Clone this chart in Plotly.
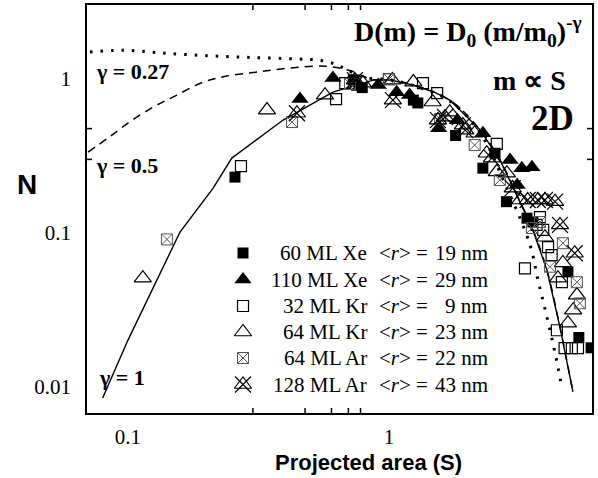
import math
import plotly.graph_objects as go

# ---------------- data ----------------
xe60_S = [0.257, 0.73, 0.79, 1.24, 1.29, 1.80, 2.29, 2.55, 2.82, 3.38, 3.56, 4.85, 5.34, 5.95]
xe60_N = [0.231, 0.99, 0.88, 0.73, 0.70, 0.43, 0.264, 0.33, 0.16, 0.125, 0.118, 0.056, 0.021, 0.018]

xe110_S = [0.456, 0.61, 0.77, 0.91, 1.07, 1.20, 1.55, 1.83, 2.29, 2.91, 3.10, 3.23, 3.53]
xe110_N = [0.742, 1.015, 0.89, 0.914, 0.82, 0.787, 0.48, 0.54, 0.445, 0.298, 0.205, 0.264, 0.268]

kr32_S = [0.271, 0.627, 0.68, 1.0, 1.35, 1.53, 2.59, 3.32, 3.68, 3.79, 3.9, 4.07, 4.2, 4.4, 4.6, 4.71, 5.02, 5.3]
kr32_N = [0.272, 0.742, 0.94, 1.0, 0.94, 0.81, 0.38, 0.059, 0.113, 0.127, 0.105, 0.081, 0.072, 0.0234, 0.048, 0.0179, 0.0179, 0.0179]

kr64_S = [0.114, 0.341, 0.569, 0.795, 1.03, 1.24, 1.47, 1.71, 2.13, 2.37, 2.59, 2.83, 3.18, 3.96, 4.44, 4.64, 4.85, 5.08, 5.25]
kr64_N = [0.051, 0.629, 0.787, 0.94, 0.985, 0.956, 0.71, 0.61, 0.445, 0.33, 0.25, 0.245, 0.164, 0.094, 0.051, 0.064, 0.026, 0.0316, 0.0396]

ar64_S = [0.141, 0.425, 0.709, 1.0, 1.57, 2.13, 2.66, 3.53, 3.79, 4.14, 4.64, 5.25, 5.39]
ar64_N = [0.091, 0.526, 0.93, 1.0, 0.55, 0.373, 0.221, 0.108, 0.118, 0.0605, 0.086, 0.048, 0.035]

ar128_S = [0.444, 0.74, 1.035, 1.54, 1.64, 1.92, 1.96, 2.48, 2.98, 3.4, 3.72, 3.96, 4.33, 4.52, 5.15]
ar128_N = [0.60, 0.985, 0.73, 0.542, 0.567, 0.503, 0.466, 0.307, 0.196, 0.164, 0.164, 0.164, 0.16, 0.113, 0.074]

# model curves
g1_S = [0.08, 0.1, 0.158, 0.212, 0.25, 0.393, 0.61, 0.87, 1.0, 1.24, 1.5, 1.71, 1.87, 2.23, 2.66, 3.18, 3.53, 4.03, 4.52, 5.07]
g1_N = [0.0085, 0.0202, 0.101, 0.196, 0.307, 0.542, 0.823, 0.985, 0.99, 0.914, 0.82, 0.73, 0.63, 0.47, 0.30, 0.16, 0.109, 0.0575, 0.0245, 0.0093]

g05_S = [0.0703, 0.0838, 0.1, 0.125, 0.154, 0.194, 0.239, 0.312, 0.418, 0.579, 0.728, 0.85, 1.0, 1.24, 1.71, 2.23, 2.66, 3.18, 3.53, 4.03, 4.52, 5.07]
g05_N = [0.336, 0.414, 0.518, 0.658, 0.787, 0.956, 1.046, 1.11, 1.18, 1.21, 1.12, 1.0, 0.99, 0.914, 0.73, 0.47, 0.30, 0.16, 0.109, 0.0575, 0.0245, 0.0093]

g027_S = [0.0715, 0.0957, 0.133, 0.2, 0.3, 0.45, 0.55, 0.63, 0.69, 0.8, 1.0, 1.24, 1.71, 2.23, 2.78, 3.47, 3.72, 4.03, 4.33, 4.6]
g027_N = [1.50, 1.54, 1.48, 1.42, 1.38, 1.35, 1.32, 1.24, 1.15, 1.03, 0.99, 0.91, 0.72, 0.45, 0.21, 0.084, 0.05, 0.0285, 0.0166, 0.0099]

legend_names = ["60 ML Xe", "110 ML Xe", "32 ML Kr", "64 ML Kr", "64 ML Ar", "128 ML Ar"]
legend_r = ["19 nm", "29 nm", "9 nm", "23 nm", "22 nm", "43 nm"]

x_major = [0.1, 1]
x_minor = [0.07, 0.08, 0.09, 0.2, 0.3, 0.4, 0.5, 0.6, 0.7, 0.8, 0.9, 2, 3, 4, 5, 6]
y_major = [0.01, 0.1, 1]
y_minor = [0.007, 0.008, 0.009, 0.02, 0.03, 0.04, 0.05, 0.06, 0.07, 0.08, 0.09,
           0.2, 0.3, 0.4, 0.5, 0.6, 0.7, 0.8, 0.9, 2, 3]

# ---------------- layout helpers ----------------
W, H = 598, 478
L, R, T, B = 87, 592, 5, 413
PW, PH = R - L, B - T
XR = [-1.157, 0.778]
YR = [-2.168, 0.481]


def px(x):
    return (x - L) / PW


def py(y):
    return (B - y) / PH


SERIF = "Liberation Serif, Times New Roman, serif"
SANS = "Liberation Sans, Arial, sans-serif"

styles = [
    dict(symbol="square", size=11, color="black", line=dict(width=0)),
    dict(symbol="triangle-up", size=15, color="black", line=dict(width=0)),
    dict(symbol="square-open", size=11, color="black", line=dict(width=1.2, color="black")),
    dict(symbol="triangle-up-open", size=15, color="black", line=dict(width=1.2, color="black")),
    dict(symbol="square-x-open", size=11, color="#555555", line=dict(width=1, color="#555555")),
    dict(symbol="triangle-up-open", size=15, color="black", line=dict(width=1.2, color="black")),
]
x_overlay = dict(symbol="x-thin-open", size=16, color="black", line=dict(width=1.2, color="black"))

fig = go.Figure()

# curves
fig.add_trace(go.Scatter(x=g027_S, y=g027_N, mode="lines", line=dict(color="black", width=3, dash="2.5px,8px"),
                         line_shape="spline", showlegend=False))
fig.add_trace(go.Scatter(x=g05_S, y=g05_N, mode="lines", line=dict(color="black", width=1.5, dash="8px,6px"),
                         line_shape="spline", showlegend=False))
fig.add_trace(go.Scatter(x=g1_S, y=g1_N, mode="lines", line=dict(color="black", width=1.4),
                         showlegend=False))

series = [(xe60_S, xe60_N), (xe110_S, xe110_N), (kr32_S, kr32_N), (kr64_S, kr64_N), (ar64_S, ar64_N), (ar128_S, ar128_N)]
for (sx, sy), st in zip(series, styles):
    fig.add_trace(go.Scatter(x=sx, y=sy, mode="markers", marker=st, showlegend=False))
fig.add_trace(go.Scatter(x=ar128_S, y=ar128_N, mode="markers", marker=x_overlay, showlegend=False))

# custom legend (symbols on a hidden 0..1 overlay axis)
rows = [253, 279.5, 306, 332, 358, 384.5]
sym_x = 243
for i, st in enumerate(styles):
    fig.add_trace(go.Scatter(x=[px(sym_x)], y=[py(rows[i])], xaxis="x2", yaxis="y2", mode="markers",
                             marker=st, showlegend=False))
fig.add_trace(go.Scatter(x=[px(sym_x)], y=[py(rows[5])], xaxis="x2", yaxis="y2", mode="markers",
                         marker=x_overlay, showlegend=False))

ann = []
for i, (nm, rv) in enumerate(zip(legend_names, legend_r)):
    ann.append(dict(x=px(369), y=py(rows[i]), xref="paper", yref="paper", text=nm, showarrow=False,
                    xanchor="right", yanchor="middle", font=dict(family=SERIF, size=21, color="black")))
    ann.append(dict(x=px(377), y=py(rows[i]), xref="paper", yref="paper", text="&lt;<i>r</i>&gt; =",
                    showarrow=False, xanchor="left", yanchor="middle",
                    font=dict(family=SERIF, size=21, color="black")))
    ann.append(dict(x=px(490), y=py(rows[i]), xref="paper", yref="paper", text=rv, showarrow=False,
                    xanchor="right", yanchor="middle", font=dict(family=SERIF, size=21, color="black")))

# text labels
ann += [
    dict(x=px(584), y=py(32), xref="paper", yref="paper",
         text="<b>D(m) = D<sub>0</sub> (m/m<sub>0</sub>)<sup>-γ</sup></b>", showarrow=False,
         xanchor="right", yanchor="middle", font=dict(family=SERIF, size=28, color="black")),
    dict(x=px(568), y=py(80), xref="paper", yref="paper", text="<b>m ∝ S</b>", showarrow=False,
         xanchor="right", yanchor="middle", font=dict(family=SERIF, size=28, color="black")),
    dict(x=px(576), y=py(118), xref="paper", yref="paper", text="<b>2D</b>", showarrow=False,
         xanchor="right", yanchor="middle", font=dict(family=SERIF, size=35, color="black")),
    dict(x=px(94), y=py(72), xref="paper", yref="paper", text="<b>γ = 0.27</b>", showarrow=False,
         xanchor="left", yanchor="middle", font=dict(family=SERIF, size=22, color="black")),
    dict(x=px(94), y=py(165), xref="paper", yref="paper", text="<b>γ = 0.5</b>", showarrow=False,
         xanchor="left", yanchor="middle", font=dict(family=SERIF, size=22, color="black")),
    dict(x=px(97), y=py(377), xref="paper", yref="paper", text="<b>γ = 1</b>", showarrow=False,
         xanchor="left", yanchor="middle", font=dict(family=SERIF, size=22, color="black")),
    dict(x=px(368), y=py(462), xref="paper", yref="paper", text="<b>Projected area (S)</b>", showarrow=False,
         xanchor="center", yanchor="middle", font=dict(family=SANS, size=22, color="black")),
    dict(x=px(27), y=py(184), xref="paper", yref="paper", text="<b>N</b>", showarrow=False,
         xanchor="center", yanchor="middle", font=dict(family=SANS, size=28, color="black")),
]

# tick marks drawn on all four sides (inside), as shapes in axis units
shapes = []
MAJ, MIN = 9, 5
for vals, ln in ((x_major, MAJ), (x_minor, MIN)):
    for v in vals:
        lx = math.log10(v)
        shapes.append(dict(type="line", xref="x", yref="paper", x0=lx, x1=lx, y0=0, y1=ln / PH,
                           line=dict(color="black", width=1.5)))
        shapes.append(dict(type="line", xref="x", yref="paper", x0=lx, x1=lx, y0=1, y1=1 - ln / PH,
                           line=dict(color="black", width=1.5)))
for vals, ln in ((y_major, MAJ), (y_minor, MIN)):
    for v in vals:
        ly = math.log10(v)
        shapes.append(dict(type="line", xref="paper", yref="y", y0=ly, y1=ly, x0=0, x1=ln / PW,
                           line=dict(color="black", width=1.5)))
        shapes.append(dict(type="line", xref="paper", yref="y", y0=ly, y1=ly, x0=1, x1=1 - ln / PW,
                           line=dict(color="black", width=1.5)))

tick_font = dict(family=SERIF, size=21, color="black")

fig.update_layout(
    template="none",
    width=W, height=H,
    margin=dict(l=L, r=W - R, t=T, b=H - B, pad=0),
    paper_bgcolor="white", plot_bgcolor="white",
    showlegend=False,
    annotations=ann,
    shapes=shapes,
    xaxis=dict(type="log", range=XR, tickmode="array", tickvals=x_major, ticktext=["0.1", "1"],
               showgrid=False, zeroline=False, automargin=False, showline=True, linecolor="black",
               linewidth=1.8, mirror=True, ticks="", tickfont=tick_font, ticklabelstandoff=4),
    yaxis=dict(type="log", range=YR, tickmode="array", tickvals=y_major, ticktext=["0.01", "0.1", "1"],
               showgrid=False, zeroline=False, automargin=False, showline=True, linecolor="black",
               linewidth=1.8, mirror=True, ticks="", tickfont=tick_font, ticklabelstandoff=10),
    xaxis2=dict(overlaying="x", anchor="y2", range=[0, 1], visible=False, fixedrange=True, automargin=False),
    yaxis2=dict(overlaying="y", anchor="x2", range=[0, 1], visible=False, fixedrange=True, automargin=False),
)

fig.write_html("out.html", config={"displayModeBar": False},
               post_script="document.body.style.margin='0';document.body.style.padding='0';")
